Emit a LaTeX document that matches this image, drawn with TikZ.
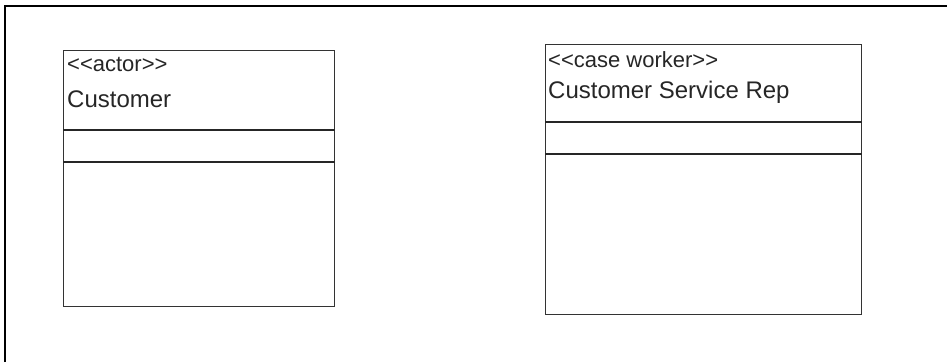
\documentclass[tikz,border=0pt]{standalone}
\usepackage{fontspec}
\setmainfont{Liberation Sans}[Ligatures=TeXOff]
\usetikzlibrary{positioning}
\tikzset{
  frame/.style={draw=black, line width=2pt},
  classbox/.style={draw=black!80, line width=1.3pt, anchor=north west, inner sep=0pt},
  divider/.style={draw=black!85, line width=1.2pt},
  stereo/.style={font=\fontsize{22}{26}\selectfont, anchor=base west, inner sep=0pt, text=black!85},
  classname/.style={font=\fontsize{24}{28}\selectfont, anchor=base west, inner sep=0pt, text=black!85}
}

\begin{document}
\begin{tikzpicture}[x=1pt,y=-1pt]
  \useasboundingbox (0,0) rectangle (947,362);
  \draw[frame] (5,362)--(5,6)--(947,6);
  % class boxes
  \node[classbox, minimum width=271pt, minimum height=256pt] (customer) at (63,50) {};
  \node[classbox, minimum width=316pt, minimum height=270pt] (rep) at (545,44) {};
  % compartments
  \foreach \d in {80,112}{
    \draw[divider] ([yshift=-\d pt]customer.north west)--([yshift=-\d pt]customer.north east);
  }
  \foreach \d in {78,110}{
    \draw[divider] ([yshift=-\d pt]rep.north west)--([yshift=-\d pt]rep.north east);
  }
  % labels
  \node[stereo] (customer-st) at ([xshift=4pt,yshift=-21pt]customer.north west) {<<actor>>};
  \node[classname] (customer-nm) at ([xshift=4pt,yshift=-57pt]customer.north west) {Customer};
  \node[stereo] (rep-st) at ([xshift=3pt,yshift=-23pt]rep.north west) {<<case worker>>};
  \node[classname] (rep-nm) at ([xshift=3pt,yshift=-54pt]rep.north west) {Customer Service Rep};
\end{tikzpicture}
\end{document}
